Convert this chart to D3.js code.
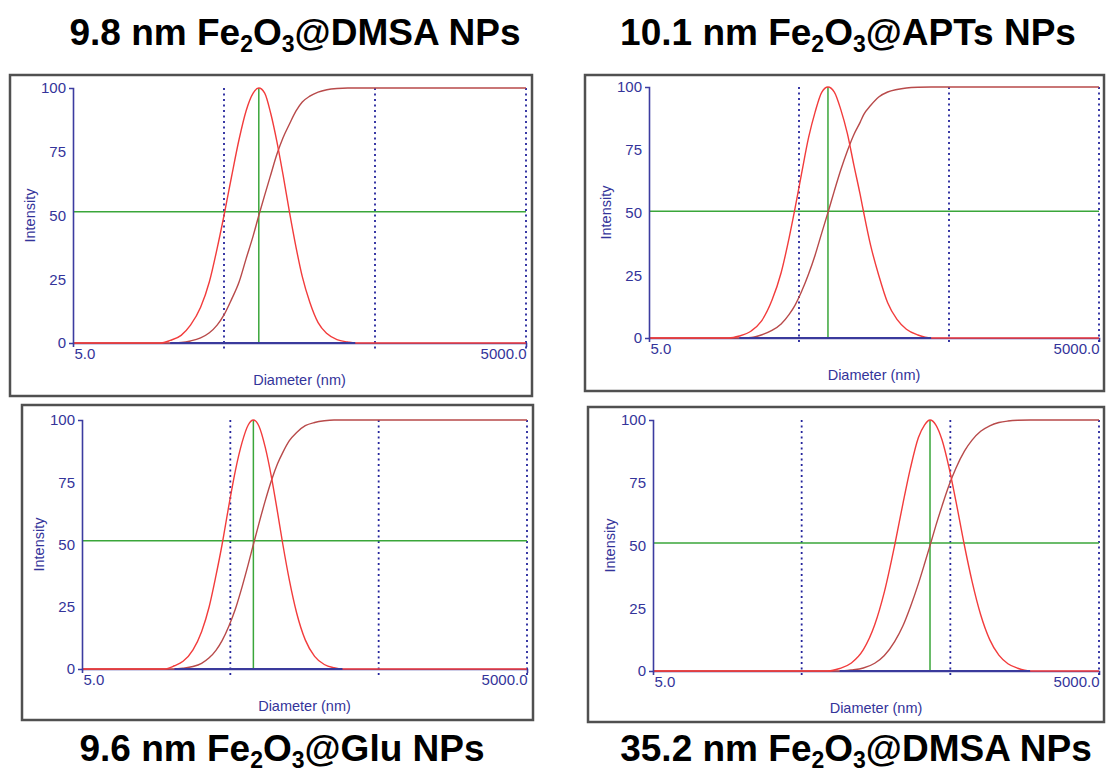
<!DOCTYPE html>
<html lang="en">

<head>
    <meta charset="UTF-8">
    <title>DLS size distributions</title>
    <style>
        body { margin: 0; background: #fff; }
        text { font-family: "Liberation Sans", Arial, sans-serif; }
        .title { font-weight: bold; font-size: 37px; fill: #000; }
        .lbl { fill: #34349a; font-size: 14.5px; }
        .axis text { fill: #34349a; font-size: 15px; font-family: "Liberation Sans", Arial, sans-serif; }
        .axis path { stroke: #3c3ca0; stroke-width: 1.6; }
    </style>
</head>

<body>
    <div id="chart"></div>
    <script src="https://d3js.org/d3.v7.min.js"></script>
    <script>
        // panel titles
        const sizes = ['9.8', '10.1', '9.6', '35.2']
        const coatings = ['DMSA', 'APTs', 'Glu', 'DMSA']

        // axis ticks and reference lines
        const yTicks = [0, 25, 50, 75, 100]
        const xTicks = [5, 5000]
        const refLines = [50, 500, 5000]

        // green cursor (median diameter nm / level %)
        const medians = [85, 78, 71.5, 365]
        const cursorLevel = [51.5, 50.5, 51.5, 51]

        // panel 1: 9.8 nm Fe2O3@DMSA
        const diam1 = [5, 19, 22, 26, 30, 35, 40, 45, 50, 56, 63, 70, 78, 85, 93, 102, 112, 123, 136, 150, 165, 185, 210, 240, 280, 330, 370, 5000]
        const dist1 = [0, 0, 1, 3, 7, 14, 24, 37, 50, 65, 80, 91, 98, 100, 98, 90, 79, 66, 51, 37.5, 26, 16, 8, 3.7, 1.3, 0.4, 0, 0]
        const cum1 = [0, 0, 0, 0.2, 0.8, 2, 4, 7, 11, 17, 24, 33, 42, 50, 58, 66, 74, 80.5, 86, 91, 94.5, 96.8, 98.4, 99.3, 99.8, 100, 100, 100]

        // panel 2: 10.1 nm Fe2O3@APTs
        const diam2 = [5, 17, 20, 24, 28, 33, 38, 43, 47, 52, 58, 64, 71, 78, 86, 95, 105, 116, 128, 135, 150, 170, 195, 225, 260, 310, 380, 5000]
        const dist2 = [0, 0, 0.8, 2.8, 6.6, 15, 26, 40, 51.5, 65.5, 80, 90, 98, 100, 98, 91, 81.5, 69, 57, 50, 37, 25, 14, 7.4, 3.5, 1.2, 0, 0]
        const cum2 = [0, 0, 0, 0.2, 1.2, 3, 5.6, 9.4, 13, 18.5, 25.6, 33, 42, 50, 58.6, 67, 74.5, 81, 86, 89, 92.6, 96, 98, 99, 99.6, 99.9, 100, 100]

        // panel 3: 9.6 nm Fe2O3@Glu
        const diam3 = [5, 18, 21, 24, 28, 32, 36, 40, 44, 49, 54, 60, 66, 71.5, 78, 86, 95, 104, 113, 125, 140, 160, 185, 215, 250, 285, 5000]
        const dist3 = [0, 0, 1.3, 3.1, 7.7, 15, 25, 37.5, 50, 66, 79.5, 91, 98, 100, 97.5, 89, 76.6, 63, 50, 35.7, 22.5, 11.7, 5.1, 1.8, 0.5, 0, 0]
        const cum3 = [0, 0, 0, 0.3, 1, 2.3, 4.5, 7.5, 11.4, 17.4, 24, 33, 42, 50, 58.5, 67.6, 76, 82.4, 87, 91.7, 95, 97.7, 99, 99.7, 100, 100, 100]

        // panel 4: 35.2 nm Fe2O3@DMSA
        const diam4 = [5, 75, 90, 108, 130, 155, 180, 211, 240, 270, 305, 335, 365, 400, 440, 490, 545, 622, 700, 800, 920, 1060, 1220, 1420, 1720, 5000]
        const dist4 = [0, 0, 1, 3.2, 8.5, 18.4, 31.5, 50, 66.7, 81, 93, 98, 100, 98, 92, 81, 67.7, 50, 35.7, 22.4, 12.5, 6.3, 2.9, 1.1, 0, 0]
        const cum4 = [0, 0, 0, 0.4, 1.2, 3.1, 6.2, 11.7, 18, 25.7, 34.8, 42.6, 50, 58, 65.8, 74, 80.8, 87.6, 92, 95.5, 97.7, 99, 99.6, 99.9, 100, 100]

        const diams = [diam1, diam2, diam3, diam4]
        const dists = [dist1, dist2, dist3, dist4]
        const cums = [cum1, cum2, cum3, cum4]

        // layout: frame [x, y, w, h], plot [left, top, right, bottom], title [cx, baseline]
        const frames = [[10, 75, 522, 321], [585, 75, 519, 316], [22, 405, 511, 315], [588, 407, 516, 315]]
        const plots = [[73, 88, 526, 343], [649, 87, 1099, 338], [82, 420, 527, 669], [653, 420, 1099, 671]]
        const titlePos = [[295, 45], [848, 45], [282, 761], [856, 761]]

        const svg = d3.select('#chart')
            .append('svg')
            .attr('width', 1106)
            .attr('height', 778)

        sizes.forEach((size, i) => {
            const [fx, fy, fw, fh] = frames[i]
            const [left, top, right, bottom] = plots[i]

            // title with subscripts
            const t = svg.append('text')
                .attr('class', 'title')
                .attr('x', titlePos[i][0])
                .attr('y', titlePos[i][1])
                .attr('text-anchor', 'middle')
            t.append('tspan').text(`${size} nm Fe`)
            t.append('tspan').attr('dy', 7).attr('font-size', 23).text('2')
            t.append('tspan').attr('dy', -7).text('O')
            t.append('tspan').attr('dy', 7).attr('font-size', 23).text('3')
            t.append('tspan').attr('dy', -7).text(`@${coatings[i]} NPs`)

            svg.append('rect')
                .attr('x', fx).attr('y', fy)
                .attr('width', fw).attr('height', fh)
                .attr('fill', 'none')
                .attr('stroke', '#505050')
                .attr('stroke-width', 2.5)

            const x = d3.scaleLog().domain([5, 5000]).range([left, right])
            const y = d3.scaleLinear().domain([0, 100]).range([bottom, top])

            const g = svg.append('g')

            // x axis
            const xAxis = g.append('g')
                .attr('class', 'axis')
                .attr('transform', `translate(0, ${bottom})`)
                .call(d3.axisBottom(x).tickValues(xTicks).tickSizeInner(0).tickSizeOuter(4)
                    .tickPadding(5).tickFormat(d3.format('.1f')))
            xAxis.selectAll('.tick text')
                .attr('text-anchor', (d, j) => j === 0 ? 'start' : 'end')
                .attr('dx', (d, j) => j === 0 ? 1 : 0)

            // dotted reference lines
            g.selectAll('.ref')
                .data(refLines)
                .join('line')
                .attr('x1', d => x(d)).attr('x2', d => x(d))
                .attr('y1', top).attr('y2', bottom + 6)
                .attr('stroke', '#24249c')
                .attr('stroke-width', 1.8)
                .attr('stroke-dasharray', '2,3.5')

            // green cursor
            g.append('line')
                .attr('x1', left).attr('x2', right)
                .attr('y1', y(cursorLevel[i])).attr('y2', y(cursorLevel[i]))
                .attr('stroke', '#3aa63a').attr('stroke-width', 1.5)
            g.append('line')
                .attr('x1', x(medians[i])).attr('x2', x(medians[i]))
                .attr('y1', top).attr('y2', bottom)
                .attr('stroke', '#3aa63a').attr('stroke-width', 1.5)

            const rows = diams[i].map((d, j) => ({ d, v: dists[i][j], c: cums[i][j] }))

            const line = key => d3.line()
                .x(r => x(r.d))
                .y(r => y(r[key]))
                .curve(d3.curveMonotoneX)

            g.append('path')
                .datum(rows)
                .attr('d', line('c'))
                .attr('fill', 'none')
                .attr('stroke', '#b84a4a')
                .attr('stroke-width', 1.4)

            g.append('path')
                .datum(rows)
                .attr('d', line('v'))
                .attr('fill', 'none')
                .attr('stroke', '#f23c3c')
                .attr('stroke-width', 1.4)

            // blue range bar on the baseline
            const first = rows.findIndex(r => r.c > 0) - 1
            const last = rows.length - 1 - [...rows].reverse().findIndex(r => r.v > 0) + 1
            g.append('line')
                .attr('x1', x(rows[first].d)).attr('x2', x(rows[last].d))
                .attr('y1', bottom).attr('y2', bottom)
                .attr('stroke', '#3a3a9c').attr('stroke-width', 2)

            // y axis
            g.append('g')
                .attr('class', 'axis')
                .attr('transform', `translate(${left}, 0)`)
                .call(d3.axisLeft(y).tickValues(yTicks).tickSizeInner(0).tickSizeOuter(4).tickPadding(7))

            // axis titles
            g.append('text')
                .attr('class', 'lbl')
                .attr('transform', `translate(${left - 43}, ${(top + bottom) / 2}) rotate(-90)`)
                .attr('text-anchor', 'middle')
                .attr('dy', '0.35em')
                .text('Intensity')
            g.append('text')
                .attr('class', 'lbl')
                .attr('x', (left + right) / 2)
                .attr('y', bottom + 42)
                .attr('text-anchor', 'middle')
                .text('Diameter (nm)')
        })
    </script>
</body>

</html>
